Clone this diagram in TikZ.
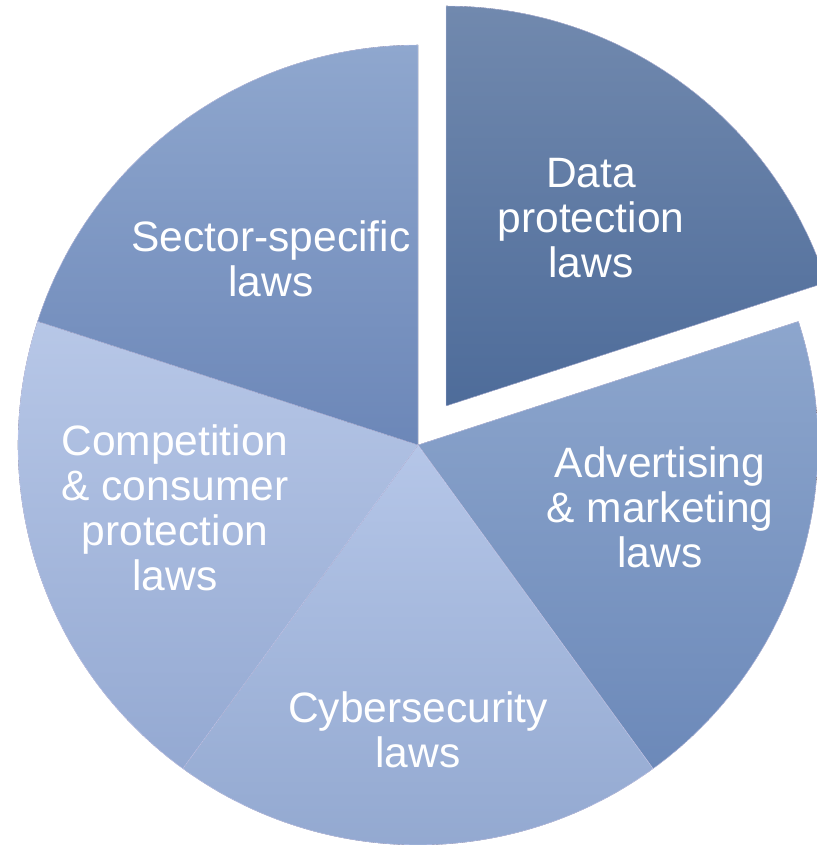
\documentclass[tikz,border=0pt]{standalone}
\usepackage{fontspec}
\setmainfont{Liberation Sans}
\usetikzlibrary{positioning}
\definecolor{dataTop}{RGB}{113,137,174}
\definecolor{dataBot}{RGB}{78,108,154}
\definecolor{advTop}{RGB}{141,166,205}
\definecolor{advBot}{RGB}{108,137,185}
\definecolor{cyberTop}{RGB}{181,198,232}
\definecolor{cyberBot}{RGB}{145,167,207}
\definecolor{compTop}{RGB}{183,199,231}
\definecolor{compBot}{RGB}{148,169,210}
\definecolor{sectTop}{RGB}{143,167,206}
\definecolor{sectBot}{RGB}{108,135,184}

\begin{document}
\begin{tikzpicture}[x=1pt, y=1pt,
    slice/.style={draw=white!85!blue, line width=0.3pt},
    lawtext/.style={text=white, align=center, inner sep=0pt, font=\fontsize{42.5}{45}\selectfont}
]
\useasboundingbox (-418,-400) rectangle (398,445);

% Data protection slice, pulled out
\begin{scope}[shift={(28,39)}]
\fill[slice, top color=dataTop, bottom color=dataBot] (0,0) -- (18:400) arc (18:90:400) -- cycle;
\end{scope}

% Remaining slices
\fill[slice, top color=advTop, bottom color=advBot] (0,0) -- (-54:400) arc (-54:18:400) -- cycle;
\fill[slice, top color=cyberTop, bottom color=cyberBot] (0,0) -- (-126:400) arc (-126:-54:400) -- cycle;
\fill[slice, top color=compTop, bottom color=compBot] (0,0) -- (162:400) arc (162:234:400) -- cycle;
\fill[slice, top color=sectTop, bottom color=sectBot] (0,0) -- (90:400) arc (90:162:400) -- cycle;

% Labels
\node[lawtext] (data) at (173,227) {Data\\protection\\laws};
\node[lawtext] (adv) at (242,-62) {Advertising\\\& marketing\\laws};
\node[lawtext] (cyber) at (0,-285) {Cybersecurity\\laws};
\node[lawtext] (comp) at (-243,-63) {Competition\\\& consumer\\protection\\laws};
\node[lawtext] (sect) at (-147,186) {Sector-specific\\laws};
\end{tikzpicture}
\end{document}
